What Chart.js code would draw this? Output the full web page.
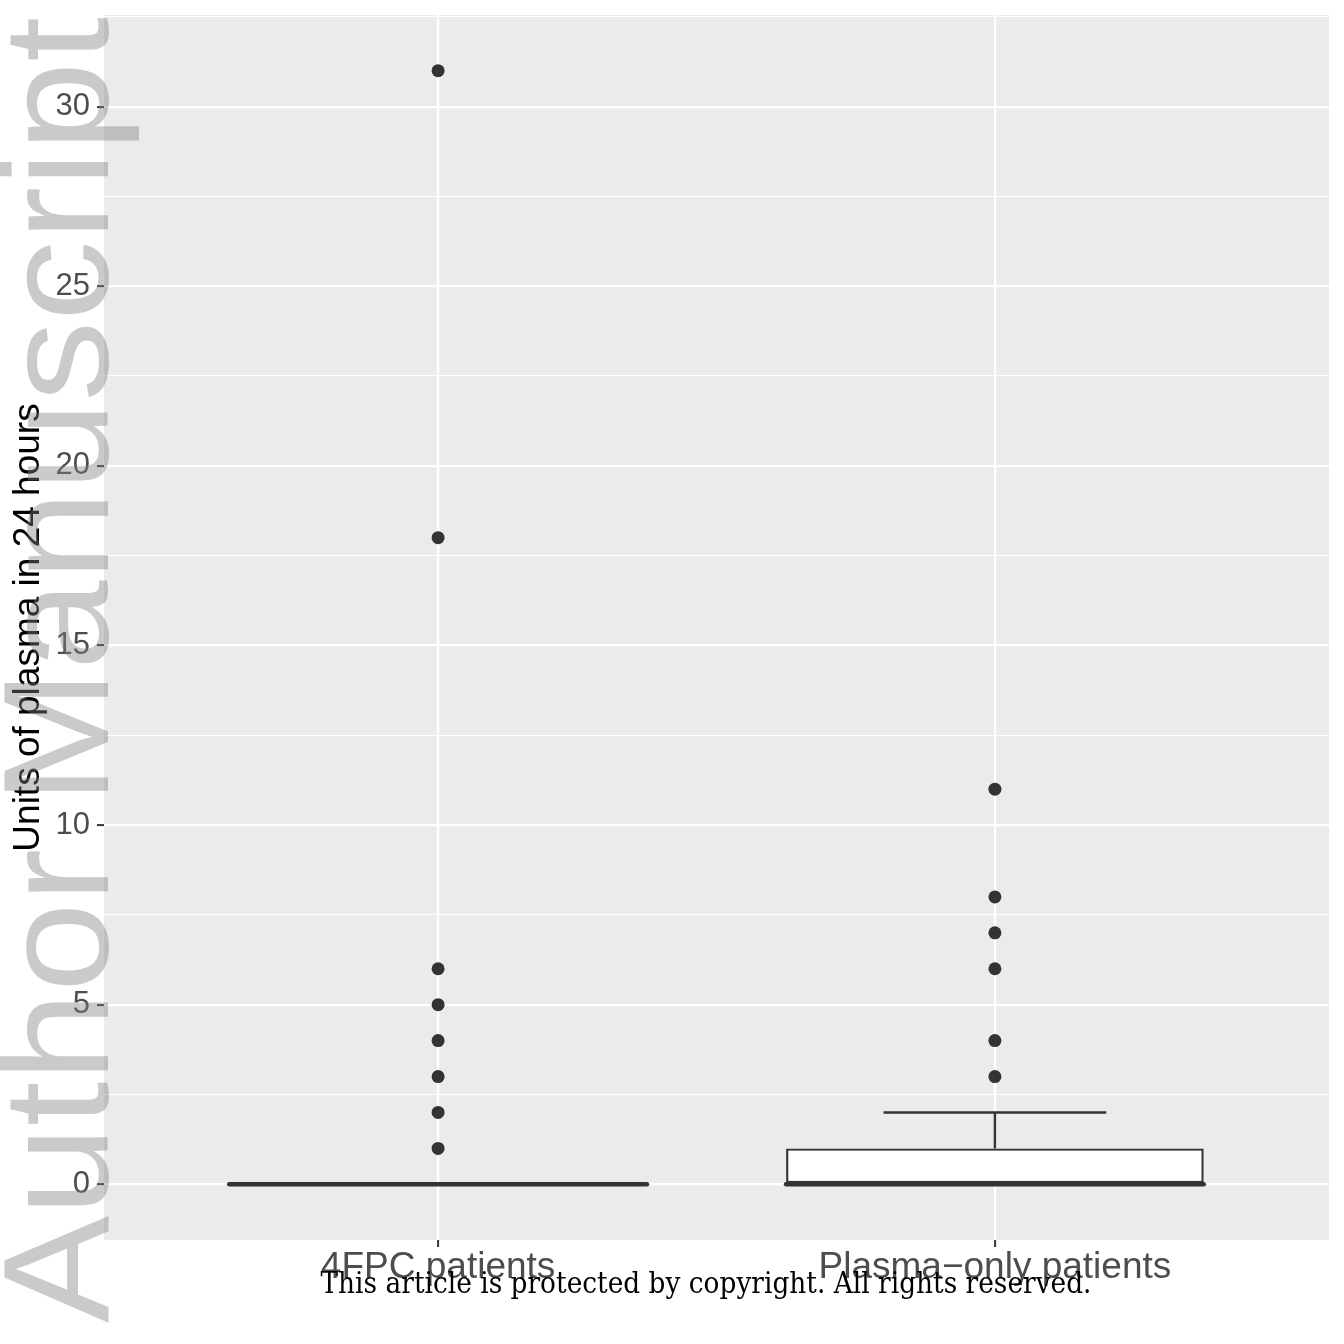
<!DOCTYPE html>
<html>
<head>
<meta charset="utf-8">
<script src="https://cdn.jsdelivr.net/npm/chart.js@4.4.1/dist/chart.umd.min.js"></script>
<style>
  html, body { margin: 0; padding: 0; background: #ffffff; }
  #wrap { width: 1344px; height: 1344px; }
</style>
</head>
<body>
<div id="wrap"><canvas id="plasmaChart" width="1344" height="1344"></canvas></div>
<script>
// boxplot summary per group
const categories = ['4FPC patients', 'Plasma\u2212only patients'];
const q1 = [0, 0];
const medians = [0, 0];
const q3 = [0, 1];
const whiskerLow = [0, 0];
const whiskerHigh = [0, 2];

// outliers per group
const outliers4FPC = [31, 18, 6, 5, 4, 3, 2, 1];
const outliersPlasma = [11, 8, 7, 6, 4, 3];

// axis ticks
const yMajorTicks = [0, 5, 10, 15, 20, 25, 30];
const yMinorTicks = [2.5, 7.5, 12.5, 17.5, 22.5, 27.5, 32.5];
const xTicks = [1, 2];

const INK = '#333333';

const panelBg = {
  id: 'panelBg',
  beforeDraw(chart) {
    const { ctx, chartArea: a } = chart;
    ctx.save();
    ctx.fillStyle = '#ffffff';
    ctx.fillRect(0, 0, chart.width, chart.height);
    ctx.fillStyle = '#ebebeb';
    ctx.fillRect(a.left, a.top, a.right - a.left, a.bottom - a.top);
    ctx.restore();
  }
};

// whiskers, caps and medians, placed through the chart scales
const boxParts = {
  id: 'boxParts',
  afterDatasetsDraw(chart) {
    const { ctx, scales: { x, y } } = chart;
    ctx.save();
    ctx.strokeStyle = INK;
    categories.forEach((c, i) => {
      const cx = x.getPixelForValue(i + 1);
      const capL = x.getPixelForValue(i + 1 - 0.2);
      const capR = x.getPixelForValue(i + 1 + 0.2);
      ctx.lineWidth = 2.4;
      ctx.lineCap = 'butt';
      ctx.beginPath();
      ctx.moveTo(cx, y.getPixelForValue(q3[i]));
      ctx.lineTo(cx, y.getPixelForValue(whiskerHigh[i]));
      ctx.moveTo(cx, y.getPixelForValue(q1[i]));
      ctx.lineTo(cx, y.getPixelForValue(whiskerLow[i]));
      ctx.moveTo(capL, y.getPixelForValue(whiskerHigh[i]));
      ctx.lineTo(capR, y.getPixelForValue(whiskerHigh[i]));
      ctx.moveTo(capL, y.getPixelForValue(whiskerLow[i]));
      ctx.lineTo(capR, y.getPixelForValue(whiskerLow[i]));
      ctx.stroke();
      const bl = x.getPixelForValue(i + 1 - 0.375);
      const br = x.getPixelForValue(i + 1 + 0.375);
      ctx.lineWidth = 4.6;
      ctx.lineCap = 'round';
      ctx.beginPath();
      ctx.moveTo(bl, y.getPixelForValue(medians[i]));
      ctx.lineTo(br, y.getPixelForValue(medians[i]));
      ctx.stroke();
    });
    ctx.restore();
  }
};

const overlayText = {
  id: 'overlayText',
  afterDraw(chart) {
    const ctx = chart.ctx;
    // watermark down the left edge
    ctx.save();
    ctx.translate(108, 1323);
    ctx.rotate(-Math.PI / 2);
    ctx.font = '150px "Liberation Sans", Arial, sans-serif';
    const wm = 'Author Manuscript';
    const w = ctx.measureText(wm).width;
    ctx.scale(1306 / w, 1);
    ctx.fillStyle = 'rgba(128,128,128,0.42)';
    ctx.textBaseline = 'alphabetic';
    ctx.fillText(wm, 0, 0);
    ctx.restore();

    // footer notice
    ctx.save();
    ctx.font = '29px "DejaVu Serif", "Liberation Serif", serif';
    const note = 'This article is protected by copyright. All rights reserved.';
    const nw = ctx.measureText(note).width;
    ctx.translate(706, 1293);
    ctx.scale(771 / nw, 1);
    ctx.fillStyle = '#000000';
    ctx.textAlign = 'center';
    ctx.textBaseline = 'alphabetic';
    ctx.fillText(note, 0, 0);
    ctx.restore();
  }
};

const pts = [];
outliers4FPC.forEach(v => pts.push({ x: 1, y: v }));
outliersPlasma.forEach(v => pts.push({ x: 2, y: v }));

new Chart(document.getElementById('plasmaChart'), {
  type: 'bar',
  data: {
    datasets: [{
      label: 'box',
      data: categories.map((c, i) => ({ x: i + 1, y: [q1[i], q3[i]] })),
      backgroundColor: '#ffffff',
      borderColor: INK,
      borderWidth: 2.4,
      borderSkipped: false,
      grouped: false,
      categoryPercentage: 1,
      barPercentage: 0.75,
      order: 2
    }, {
      type: 'scatter',
      label: 'outliers',
      data: pts,
      pointRadius: 6.5,
      pointBackgroundColor: INK,
      pointBorderWidth: 0,
      order: 1
    }]
  },
  options: {
    responsive: false,
    animation: false,
    events: [],
    layout: { padding: { left: 0, top: 15, right: 15, bottom: 0 } },
    plugins: {
      legend: { display: false },
      tooltip: { enabled: false }
    },
    scales: {
      x: {
        type: 'linear',
        min: 0.4,
        max: 2.6,
        offset: false,
        afterBuildTicks: s => { s.ticks = xTicks.map(v => ({ value: v })); },
        afterFit: s => { s.height = 104; s.paddingLeft = 0; s.paddingRight = 0; },
        border: { display: false },
        grid: { offset: false, color: '#ffffff', lineWidth: 2.2, tickColor: INK, tickLength: 7, tickWidth: 2 },
        ticks: {
          autoSkip: false,
          maxRotation: 0,
          padding: 2,
          color: '#4d4d4d',
          font: { family: '"Liberation Sans", Arial, sans-serif', size: 37, lineHeight: 1 },
          callback: v => categories[v - 1]
        }
      },
      y: {
        min: -1.55,
        max: 32.55,
        afterBuildTicks: s => {
          s.ticks = yMajorTicks.concat(yMinorTicks).sort((a, b) => a - b).map(v => ({ value: v }));
        },
        afterFit: s => { s.width = 104; s.paddingTop = 0; s.paddingBottom = 0; },
        border: { display: false },
        grid: {
          color: '#ffffff',
          lineWidth: c => (yMajorTicks.includes(c.tick.value) ? 2.2 : 1.1),
          tickColor: c => (yMajorTicks.includes(c.tick.value) ? INK : 'rgba(0,0,0,0)'),
          tickLength: 7,
          tickWidth: 2
        },
        ticks: {
          autoSkip: false,
          padding: 7,
          color: '#4d4d4d',
          font: { family: '"Liberation Sans", Arial, sans-serif', size: 31 },
          callback: v => (yMajorTicks.includes(v) ? String(v) : '')
        },
        title: {
          display: true,
          text: 'Units of plasma in 24 hours',
          color: '#000000',
          font: { family: '"Liberation Sans", Arial, sans-serif', size: 37, lineHeight: 1.2 },
          padding: { top: 7, bottom: 0 }
        }
      }
    }
  },
  plugins: [panelBg, boxParts, overlayText]
});
</script>
</body>
</html>
